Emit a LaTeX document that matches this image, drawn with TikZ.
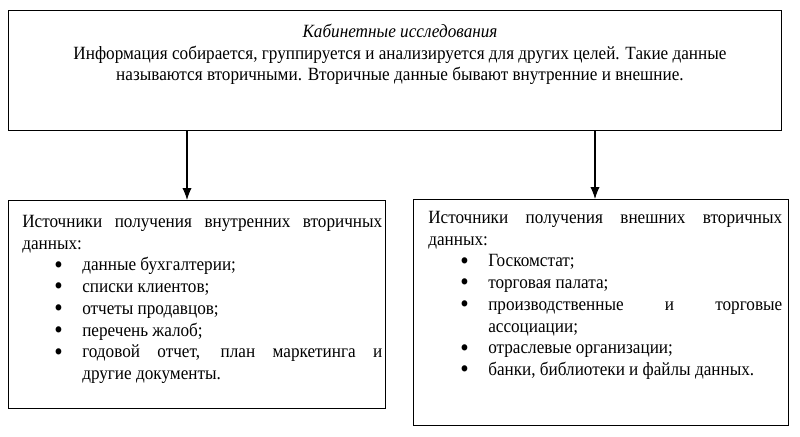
\documentclass[tikz,border=0pt]{standalone}
\usepackage{fontspec}
\setmainfont[FakeStretch=0.92]{Liberation Serif}
\usetikzlibrary{arrows.meta}

\newenvironment{srclist}{%
  \begin{list}{\raisebox{-1.6pt}[0pt][0pt]{\scalebox{1.4}{\textbullet}}}{%
    \setlength{\leftmargin}{45pt}\setlength{\labelwidth}{21pt}%
    \setlength{\labelsep}{0pt}\setlength{\itemsep}{0pt}%
    \setlength{\parsep}{0pt}\setlength{\topsep}{0pt}\setlength{\partopsep}{0pt}%
    \renewcommand{\makelabel}[1]{\makebox[\labelwidth][l]{##1}}}}%
  {\end{list}}

\begin{document}
\begin{tikzpicture}[x=0.75pt,y=-0.75pt,>={Latex[length=9pt,width=7pt]},
    panel/.style={draw,line width=0.8pt,inner sep=0pt,anchor=north west},
    boxtext/.style={inner sep=0pt,anchor=north west,text width=#1,align=justify,
      font=\fontsize{14}{16.3}\selectfont}]
    \useasboundingbox (0,0) rectangle (800,436);

    \node[panel,minimum width=579.75pt,minimum height=90pt] (top) at (8,10) {};
    \node[inner sep=0pt,anchor=north,align=center,font=\fontsize{14}{16.1}\selectfont] (toptext) at (400,24)
      {\textit{Кабинетные исследования}\\
       Информация собирается, группируется и анализируется для других целей. Такие данные\\
       называются вторичными. Вторичные данные бывают внутренние и внешние.};

    \node[panel,minimum width=282.75pt,minimum height=156pt] (internal) at (8,200) {};
    \node[boxtext=270pt] (internaltext) at (22,215)
      {Источники получения внутренних вторичных\linebreak данных:
       \begin{srclist}
         \item данные бухгалтерии;
         \item списки клиентов;
         \item отчеты продавцов;
         \item перечень жалоб;
         \item годовой отчет, план маркетинга и\linebreak другие документы.
       \end{srclist}};

    \node[panel,minimum width=281.25pt,minimum height=169.5pt] (external) at (413,199) {};
    \node[boxtext=265.5pt] (externaltext) at (428,211)
      {Источники получения внешних вторичных\linebreak данных:
       \begin{srclist}
         \item Госкомстат;
         \item торговая палата;
         \item производственные и торговые\linebreak ассоциации;
         \item отраслевые организации;
         \item банки, библиотеки и файлы данных.
       \end{srclist}};

    \coordinate (leftdrop) at (187,0);
    \coordinate (rightdrop) at (595,0);
    \draw[->,line width=0.8pt] (top.south -| leftdrop) -- (internal.north -| leftdrop);
    \draw[->,line width=0.8pt] (top.south -| rightdrop) -- (external.north -| rightdrop);
\end{tikzpicture}
\end{document}
